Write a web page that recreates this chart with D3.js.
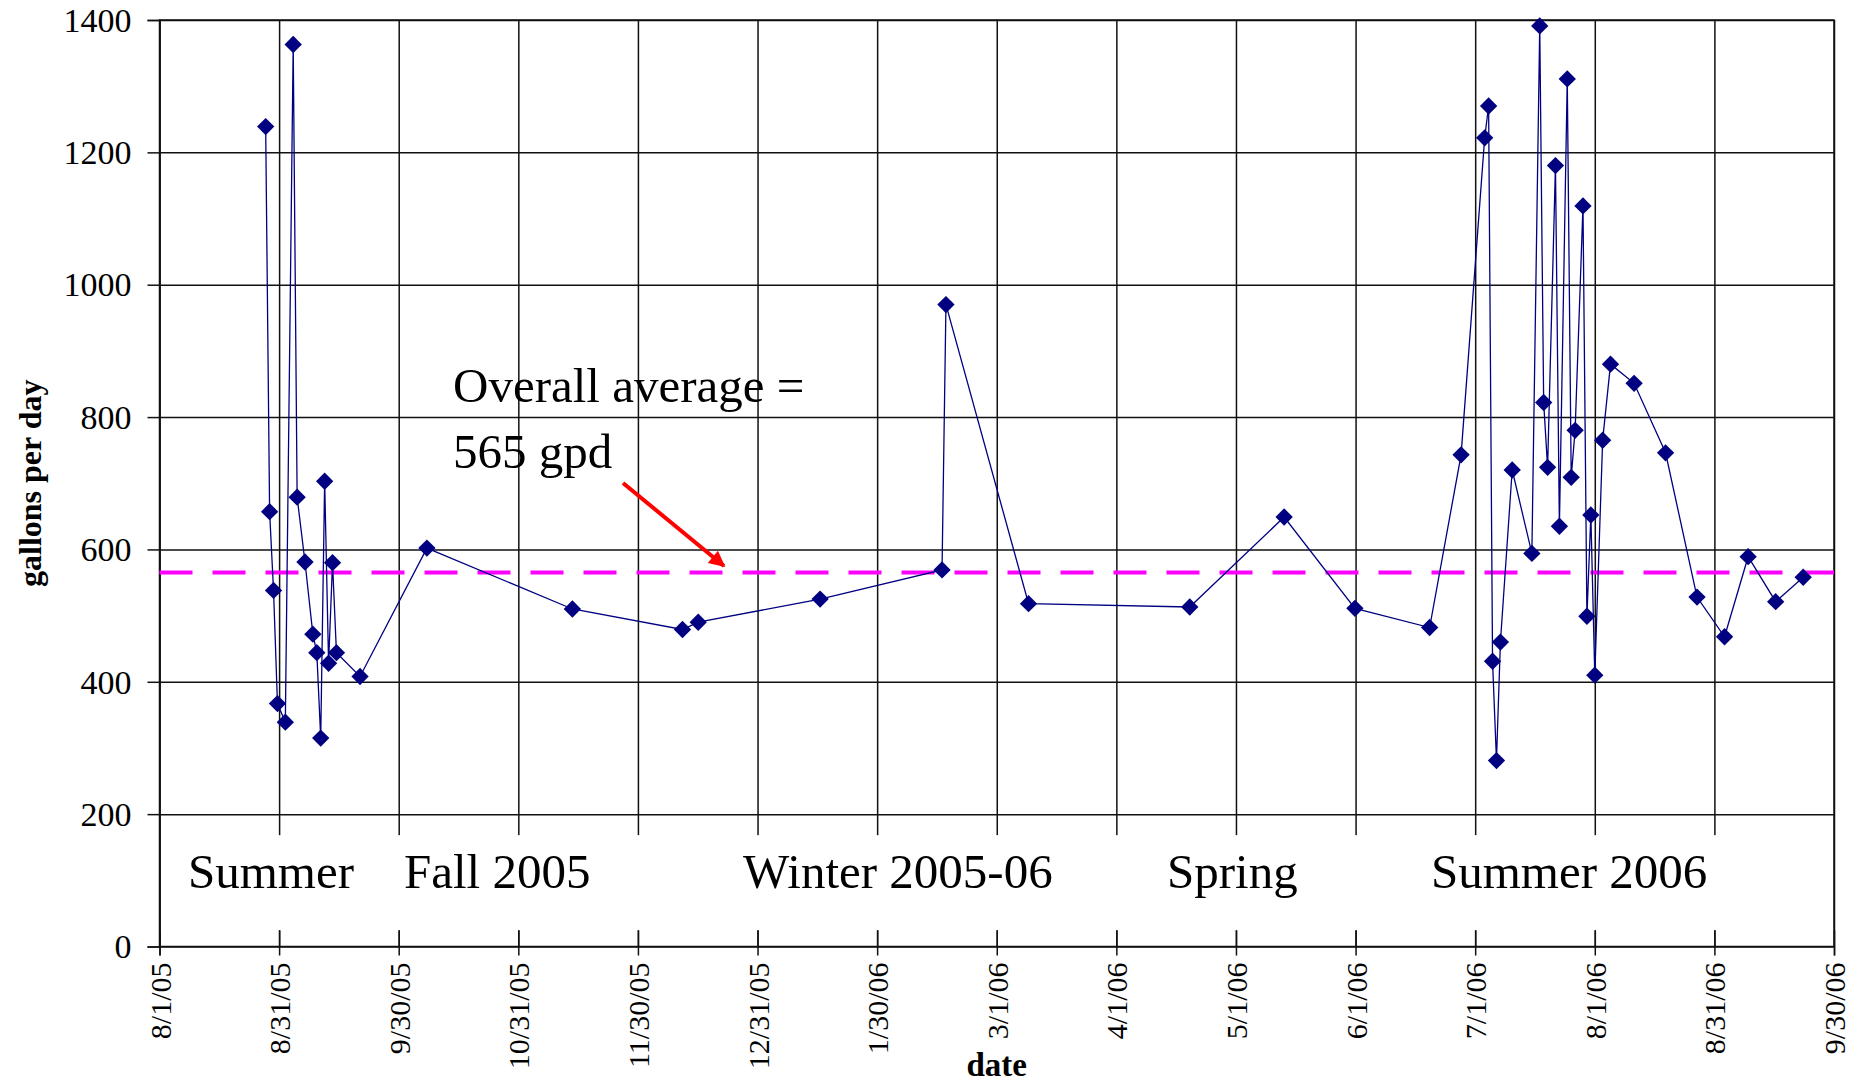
<!DOCTYPE html>
<html>
<head>
<meta charset="utf-8">
<script src="https://cdn.jsdelivr.net/npm/d3@7"></script>
<style>
body { margin: 0; background: #fff; }
text { font-family: "Liberation Serif", "Times New Roman", serif; fill: #000; }
</style>
</head>
<body>
<div class="wrapper"></div>
<script>
// sample dates and measured use (gallons per day)
var dates = [
    "2005-08-28", "2005-08-29", "2005-08-30", "2005-08-31", "2005-09-02", "2005-09-04",
    "2005-09-05", "2005-09-07", "2005-09-09", "2005-09-10", "2005-09-11", "2005-09-12",
    "2005-09-13", "2005-09-14", "2005-09-15", "2005-09-21", "2005-10-08", "2005-11-14",
    "2005-12-12", "2005-12-16", "2006-01-16", "2006-02-16", "2006-02-17", "2006-03-10",
    "2006-04-20", "2006-05-14", "2006-06-01", "2006-06-20", "2006-06-28", "2006-07-04",
    "2006-07-05", "2006-07-06", "2006-07-07", "2006-07-08", "2006-07-11", "2006-07-16",
    "2006-07-18", "2006-07-19", "2006-07-20", "2006-07-22", "2006-07-23", "2006-07-25",
    "2006-07-26", "2006-07-27", "2006-07-29", "2006-07-30", "2006-07-31", "2006-08-01",
    "2006-08-03", "2006-08-05", "2006-08-11", "2006-08-19", "2006-08-27", "2006-09-03",
    "2006-09-09", "2006-09-16", "2006-09-23"
];
var gpd = [
    1239, 657, 538, 367, 339, 1363,
    679, 581, 472, 444, 315, 703,
    428, 580, 444, 408, 602, 510,
    479, 490, 525, 569, 970, 518,
    513, 649, 511, 482, 743, 1222,
    1270, 431, 281, 460, 720, 594,
    1391, 822, 724, 1180, 635, 1311,
    709, 780, 1119, 499, 652, 410,
    765, 880, 851, 746, 528, 468,
    589, 521, 558
];
var average = 565;
var yTicks = [0, 200, 400, 600, 800, 1000, 1200, 1400];
var xTickLabels = ["8/1/05", "8/31/05", "9/30/05", "10/31/05", "11/30/05", "12/31/05", "1/30/06",
    "3/1/06", "4/1/06", "5/1/06", "6/1/06", "7/1/06", "8/1/06", "8/31/06", "9/30/06"];
var seasons = ["Summer", "Fall 2005", "Winter 2005-06", "Spring", "Summer 2006"];
var seasonLeft = [188, 404, 743, 1167, 1431];

var W = 1863, H = 1085;
var margin = {top: 20, right: 29, bottom: 138.5, left: 159.5};
var w = W - margin.left - margin.right, h = H - margin.top - margin.bottom;
var serif = '"Liberation Serif", "Times New Roman", serif';

// excel date axis: major unit of 365/12 days
var DAY = 864e5;
var start = Date.UTC(2005, 7, 1);
var step = 365 / 12;
var xTickVals = xTickLabels.map(function(l, i) { return new Date(start + i * step * DAY); });

var x = d3.scaleUtc()
    .domain([new Date(start), new Date(start + (xTickLabels.length - 1) * step * DAY)])
    .range([0, w]);
var y = d3.scaleLinear().domain([0, 1400]).range([h, 0]);

var parse = d3.utcParse("%Y-%m-%d");
var points = dates.map(function(d, i) { return {date: parse(d), v: gpd[i]}; });

var svg = d3.select(".wrapper").append("svg")
    .attr("width", W)
    .attr("height", H);
svg.append("rect").attr("width", W).attr("height", H).attr("fill", "#fff");

var g = svg.append("g")
    .attr("transform", "translate(" + margin.left + "," + margin.top + ")");

// gridlines
g.append("g")
    .call(d3.axisLeft(y).tickValues(yTicks.slice(1)).tickSize(-w).tickFormat(""))
    .call(function(s) { s.select(".domain").remove(); })
    .selectAll("line").attr("stroke", "#111").attr("stroke-width", 1.5);

g.append("g")
    .attr("transform", "translate(0," + h + ")")
    .call(d3.axisBottom(x).tickValues(xTickVals).tickSize(-h).tickFormat(""))
    .call(function(s) { s.select(".domain").remove(); })
    .selectAll("line").attr("stroke", "#111").attr("stroke-width", 1.5);

// white text box holding the season names
g.append("rect")
    .attr("x", 1.5)
    .attr("width", w - 3)
    .attr("y", y(200) + 21)
    .attr("height", 95)
    .attr("fill", "#fff");

// plot frame
g.append("rect")
    .attr("width", w)
    .attr("height", h)
    .attr("fill", "none")
    .attr("stroke", "#111")
    .attr("stroke-width", 1.5);

// y axis
var yAxis = g.append("g")
    .attr("font-family", serif)
    .call(d3.axisLeft(y).tickValues(yTicks).tickSize(12).tickPadding(16).tickFormat(d3.format("d")));
yAxis.select(".domain").attr("stroke", "#111").attr("stroke-width", 1.5);
yAxis.selectAll("line").attr("stroke", "#111").attr("stroke-width", 1.5);
yAxis.selectAll("text")
    .style("font-family", serif)
    .style("font-size", "34px")
    .attr("dy", "0.33em");

// x axis with cross tick marks
var xAxis = g.append("g")
    .attr("transform", "translate(0," + h + ")")
    .attr("font-family", serif)
    .call(d3.axisBottom(x).tickValues(xTickVals).tickSize(9)
        .tickFormat(function(d, i) { return xTickLabels[i]; }));
xAxis.select(".domain").attr("stroke", "#111").attr("stroke-width", 1.5);
xAxis.selectAll("line").attr("y1", -16).attr("stroke", "#111").attr("stroke-width", 1.5);
xAxis.selectAll("text")
    .style("font-family", serif)
    .style("font-size", "30px")
    .attr("text-anchor", "end")
    .attr("transform", "rotate(-90)")
    .attr("x", -16)
    .attr("y", 0)
    .attr("dy", "0.35em");

// average line
g.append("line")
    .attr("x1", 0)
    .attr("x2", w)
    .attr("y1", y(average))
    .attr("y2", y(average))
    .attr("stroke", "#ff00ff")
    .attr("stroke-width", 4)
    .attr("stroke-dasharray", "33,20");

// data series
var line = d3.line()
    .x(function(d) { return x(d.date); })
    .y(function(d) { return y(d.v); });

g.append("path")
    .datum(points)
    .attr("fill", "none")
    .attr("stroke", "#000080")
    .attr("stroke-width", 1.3)
    .attr("d", line);

g.selectAll(".pt")
    .data(points)
    .enter().append("path")
    .attr("class", "pt")
    .attr("d", d3.symbol().type(d3.symbolSquare).size(150))
    .attr("fill", "#000080")
    .attr("transform", function(d) {
        return "translate(" + x(d.date) + "," + y(d.v) + ")rotate(45)";
    });

// season names
svg.selectAll(".season")
    .data(seasons)
    .enter().append("text")
    .attr("class", "season")
    .attr("x", function(d, i) { return seasonLeft[i]; })
    .attr("y", 888)
    .style("font-size", "49px")
    .text(function(d) { return d; });

// annotation
svg.append("text")
    .attr("x", 453)
    .attr("y", 402)
    .style("font-size", "49px")
    .text("Overall average =");
svg.append("text")
    .attr("x", 453)
    .attr("y", 468)
    .style("font-size", "49px")
    .text("565 gpd");

svg.append("defs").append("marker")
    .attr("id", "arrow")
    .attr("viewBox", "0 0 10 10")
    .attr("refX", 9)
    .attr("refY", 5)
    .attr("markerUnits", "userSpaceOnUse")
    .attr("markerWidth", 18)
    .attr("markerHeight", 16)
    .attr("orient", "auto")
    .append("path")
    .attr("d", "M0,0L10,5L0,10z")
    .attr("fill", "#ff0000");

svg.append("line")
    .attr("x1", 623)
    .attr("y1", 483)
    .attr("x2", 724)
    .attr("y2", 566)
    .attr("stroke", "#ff0000")
    .attr("stroke-width", 4)
    .attr("marker-end", "url(#arrow)");

// axis titles
svg.append("text")
    .attr("x", margin.left + w / 2)
    .attr("y", 1076)
    .attr("text-anchor", "middle")
    .style("font-size", "33px")
    .style("font-weight", "bold")
    .text("date");

svg.append("text")
    .attr("transform", "translate(41," + (margin.top + h / 2) + ")rotate(-90)")
    .attr("text-anchor", "middle")
    .style("font-size", "32px")
    .style("font-weight", "bold")
    .text("gallons per day");
</script>
</body>
</html>
